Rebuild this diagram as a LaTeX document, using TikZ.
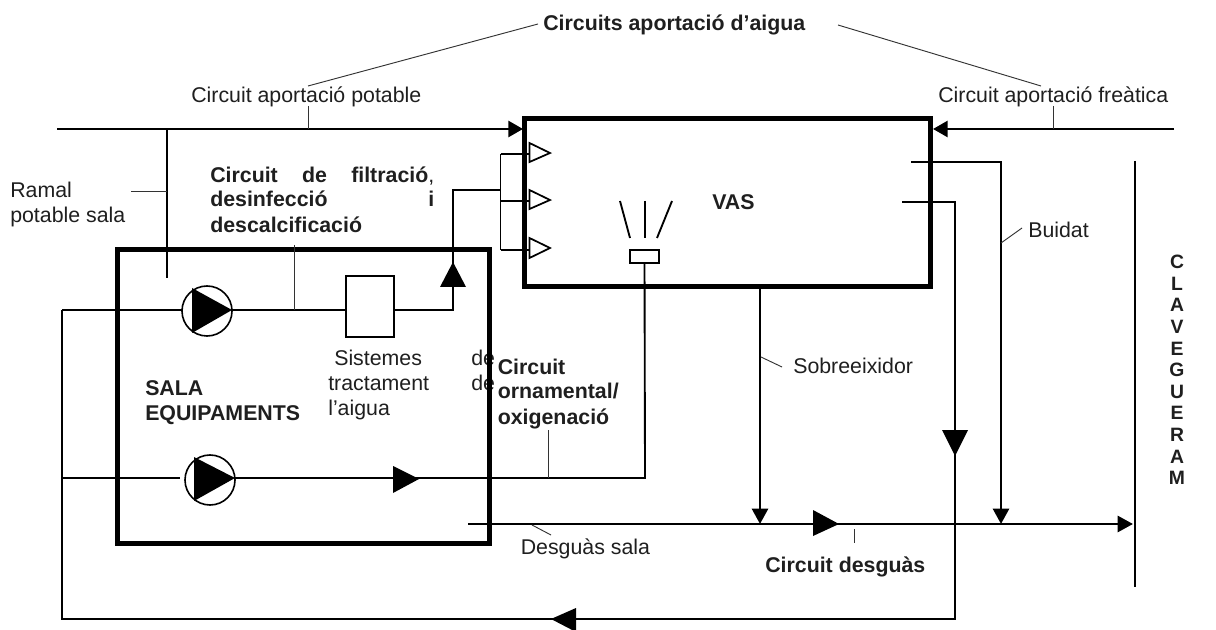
\documentclass[tikz,border=0pt]{standalone}
\usepackage{fontspec}
\setmainfont{Liberation Sans}
\usetikzlibrary{arrows.meta}
\tikzset{
  txt/.style={inner sep=0pt,anchor=base west,text=black!88,font=\fontsize{16pt}{19pt}\selectfont},
  btxt/.style={txt,font=\fontsize{16pt}{19pt}\selectfont\bfseries},
  thickbox/.style={draw=black,line width=3.75pt,fill=none,inner sep=0pt,minimum width=0pt},
  pipe/.style={draw=black,line width=2pt},
  hpipe/.style={draw=black,line width=1.4pt},
  leader/.style={draw=black!80,line width=0.7pt},
  midtip/.style={fill=black,draw=none},
  opentip/.style={draw=black,line width=1.3pt,fill=white},
  endtip/.style={-{Triangle[length=11.5pt,width=12pt,fill=black]}},
  pumpc/.style={circle,draw=black,line width=1.2pt,fill=white,inner sep=0pt,minimum size=37.5pt},
}
\begin{document}
\begin{tikzpicture}[x=0.75pt,y=-0.75pt]
\useasboundingbox (0,0) rectangle (1216,630);
\fill[white] (0,0) rectangle (1216,630);

% text that lies under the room outline
\node[txt] (tDe1) at (471,366) {de};
\node[txt] (tDe2) at (471,391) {de};

% boxes
\node[thickbox,minimum width=304.5pt,minimum height=126pt] (vas) at (727.5,202.5) {};
\node[thickbox,minimum width=279pt,minimum height=219.75pt] (sala) at (303,396.5) {};
\node[draw=black,line width=1.3pt,minimum width=36.5pt,minimum height=45.75pt,inner sep=0pt] (filtre) at (370,306.2) {};
\node[draw=black,line width=1.3pt,fill=white,minimum width=21.75pt,minimum height=9.75pt,inner sep=0pt] (nozzle) at (644.5,256.5) {};

% coordinates
\coordinate (potA) at (57,129);
\coordinate (potB) at (523,129);
\coordinate (freA) at (1174,129);
\coordinate (freB) at (933,129);
\coordinate (ramT) at (167,129);
\coordinate (ramB) at (167,278);
\coordinate (retL1) at (62,310);
\coordinate (p1in) at (182,310);
\coordinate (p1out) at (232,310);
\coordinate (retL2) at (62,478);
\coordinate (p2in) at (180,478);
\coordinate (p2out) at (235,478);
\coordinate (retBL) at (62,619);
\coordinate (retBR) at (955,619);
\coordinate (retTR) at (955,202);
\coordinate (vasOut) at (902,202);
\coordinate (up) at (453,310);
\coordinate (upT) at (453,190);
\coordinate (man) at (500.5,190);
\coordinate (manT) at (500.5,154);
\coordinate (manM) at (500.5,201);
\coordinate (manB) at (500.5,250);
\coordinate (inj1) at (530,154);
\coordinate (inj2) at (530,201);
\coordinate (inj3) at (530,250);
\coordinate (orn) at (645,478);
\coordinate (desA) at (468,524);
\coordinate (desB) at (1133,524);
\coordinate (sobT) at (760,288);
\coordinate (sobB) at (760,524);
\coordinate (buiA) at (911,162);
\coordinate (buiC) at (1001,162);
\coordinate (buiB) at (1001,524);
\coordinate (wallT) at (1135,161);
\coordinate (wallB) at (1135,587);

% pumps
\node[pumpc] (pump1) at (207,311) {};
\node[pumpc] (pump2) at (210,480) {};

% supply lines
\draw[pipe,-{Triangle[length=11pt,width=12pt,fill=black]}] (potA) -- (potB);
\draw[pipe,-{Triangle[length=11pt,width=12pt,fill=black]}] (freA) -- (freB);
\draw[hpipe] (ramT) -- (ramB);

% filtration
\draw[hpipe] (retL1) -- (p1in);
\draw[hpipe] (p1out) -- (filtre.west |- p1out);
\draw[hpipe] (filtre.east |- up) -- (up) -- (upT) -- (man);
\draw[hpipe] (manT) -- (manB);
\draw[hpipe] (manT) -- (inj1);
\draw[hpipe] (manM) -- (inj2);
\draw[hpipe] (manB) -- (inj3);

% ornamental
\draw[hpipe] (retL2) -- (p2in);
\draw[hpipe] (p2out) -- (orn) -- (nozzle);

% return
\draw[hpipe] (retL1) -- (retBL) -- (retBR) -- (retTR) -- (vasOut);

% drain
\draw[pipe,endtip] (desA) -- (desB);
\draw[pipe,endtip] (vas.south -| sobT) -- (sobB);
\draw[pipe,endtip] (buiA) -- (buiC) -- (buiB);
\draw[pipe] (wallT) -- (wallB);

% mid-line tips
\path[midtip] (192,288) -- (232,310) -- (192,333) -- cycle;
\path[midtip] (194,457) -- (235,478) -- (194,501) -- cycle;
\path[midtip] (393,466) -- (419,479) -- (393,493) -- cycle;
\path[midtip] (440,287) -- (453,262) -- (466,287) -- cycle;
\path[midtip] (813,510) -- (839,524) -- (813,536) -- cycle;
\path[midtip] (942,430) -- (968,430) -- (955,456) -- cycle;
\path[midtip] (576,608) -- (551,619) -- (576,632) -- cycle;
\path[opentip] (529.5,143) -- (550,153) -- (529.5,162) -- cycle;
\path[opentip] (529.5,190) -- (550,200) -- (529.5,209) -- cycle;
\path[opentip] (529.5,238) -- (550,248) -- (529.5,258) -- cycle;

% spray
\draw[hpipe] (620,201) -- (630,238);
\draw[hpipe] (645,201) -- (645,238);
\draw[hpipe] (672,201) -- (657,238);

% labels
\node[btxt] (tTitle) at (543,31) {Circuits aportació d’aigua};
\node[txt] (tPot) at (191,103) {Circuit aportació potable};
\node[txt] (tFre) at (938,103) {Circuit aportació freàtica};
\node[txt] (tRam1) at (10,198) {Ramal};
\node[txt] (tRam2) at (10,223) {potable sala};
\node[btxt] (tFil1) at (210,183) {\makebox[168pt][s]{Circuit\hfill de\hfill filtració\mdseries,}};
\node[btxt] (tFil2) at (210,207) {\makebox[168pt][s]{desinfecció\hfill i}};
\node[btxt] (tFil3) at (210,233) {descalcificació};
\node[btxt] (tVas) at (712,210) {VAS};
\node[txt] (tSis1) at (334,366) {Sistemes};
\node[txt] (tSis2) at (328,391) {tractament};
\node[txt] (tSis3) at (328,416) {l’aigua};
\node[btxt] (tOrn1) at (497.5,375) {Circuit};
\node[btxt] (tOrn2) at (497.5,399) {ornamental/};
\node[btxt] (tOrn3) at (497.5,424) {oxigenació};
\node[btxt] (tSal1) at (145,396) {SALA};
\node[btxt] (tSal2) at (145,421) {EQUIPAMENTS};
\node[txt] (tSob) at (793,374) {Sobreeixidor};
\node[txt] (tBui) at (1028,238) {Buidat};
\node[txt] (tDes) at (520.5,554) {Desguàs sala};
\node[btxt] (tCde) at (765,572) {Circuit desguàs};
\foreach \l [count=\i from 0] in {C,L,A,V,E,G,U,E,R,A,M}{
  \node[btxt,anchor=center,font=\fontsize{14.5pt}{16pt}\selectfont\bfseries] (cl\i) at (1177,262+\i*21.6) {\l};
}

% leaders
\draw[leader] (538,24) -- (308,86);
\draw[leader] (838,25) -- (1041,86);
\draw[leader] (308,106) -- (308,129);
\draw[leader] (1053,106) -- (1053,129);
\draw[leader] (131,191) -- (ramT |- 0,191);
\draw[leader] (294,245) -- (294,310);
\draw[leader] (548,430) -- (548,478);
\draw[leader] (532,525) -- (551,535);
\draw[leader] (761,357) -- (782,367);
\draw[leader] (1001,243) -- (1022,228);
\draw[leader] (854,529) -- (854,543);
\end{tikzpicture}
\end{document}
